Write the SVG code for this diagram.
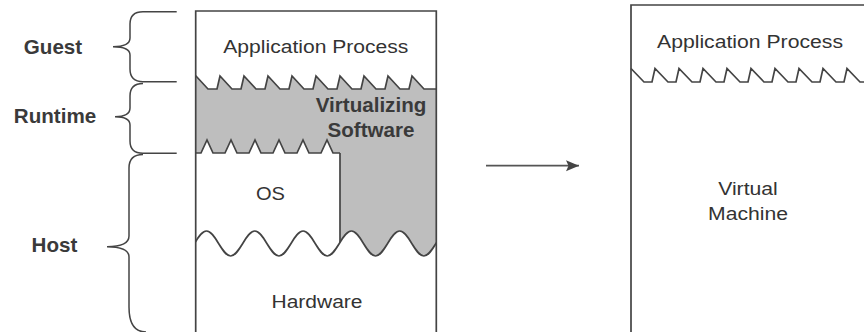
<svg xmlns="http://www.w3.org/2000/svg" width="864" height="332" viewBox="0 0 864 332">
<style>
.ln{fill:none;stroke:#444;stroke-width:1.7;stroke-linejoin:miter}
.br{fill:none;stroke:#444;stroke-width:1.5}
.t{font-family:"Liberation Sans",Arial,sans-serif;font-size:17.5px;fill:#333;text-anchor:middle}
.b{font-family:"Liberation Sans",Arial,sans-serif;font-size:20.6px;font-weight:bold;fill:#3a3a3a;text-anchor:middle}
</style>
<defs>
<clipPath id="lbox"><rect x="195.7" y="0" width="240.6" height="332"/></clipPath>
<marker id="ah" markerWidth="14" markerHeight="12" refX="13" refY="5.5" orient="auto" markerUnits="userSpaceOnUse">
<path d="M0,0 L13,5.5 L0,11 L2.5,5.5 Z" fill="#444"/>
</marker>
</defs>
<rect width="864" height="332" fill="#fff"/>

<g id="labels">
<g id="guest"><path class="br" d="M176.7,11.7 L143,11.7 Q130,11.7 130,24 L130,38 Q130,46.7 113,46.7 Q130,46.7 130,55 L130,69 Q130,81.7 143,81.7 L176.7,81.7"/><text class="b" x="53" y="54.3">Guest</text></g>
<g id="runtime"><path class="br" d="M143,83.5 Q130,83.5 130,96 L130,108 Q130,116.7 115,116.7 Q130,116.7 130,125 L130,141 Q130,153.3 143,153.3 L176.7,153.3"/><text class="b" x="55" y="123.3">Runtime</text></g>
<g id="host"><path class="br" d="M143,154.5 Q129,154.5 129,168 L129,236 Q129,246.7 107,246.7 Q129,246.7 129,257 L129,307 Q129,332 146,332"/><text class="b" x="54.5" y="251.7">Host</text></g>
</g>

<g id="system">
<g clip-path="url(#lbox)">
<path id="virtualizing-fill" fill="#bebebe" d="M195.7,76 L196,76 L208,89 L217,89 L220,76 L232,89 L241,89 L244,76 L256,89 L265,89 L268,76 L280,89 L289,89 L292,76 L304,89 L313,89 L316,76 L328,89 L337,89 L340,76 L352,89 L361,89 L364,76 L376,89 L385,89 L388,76 L400,89 L409,89 L412,76 L424,89 L436.3,89 L436.3,262 L340,262 L340,153 L333,153 L327,140 L321,153 L309,153 L303,140 L297,153 L285,153 L279,140 L273,153 L261,153 L255,140 L249,153 L237,153 L231,140 L225,153 L213,153 L207,140 L201,153 L195.7,153 Z"/>
<path class="ln" d="M340,153 L340,262"/>
<path fill="#fff" d="M182.35,256 C191.15,256 197.7,231 206.5,231 S221.85,256 230.65,256 S246,231 254.8,231 S270.15,256 278.95,256 S294.3,231 303.1,231 S318.45,256 327.25,256 S342.6,231 351.4,231 S366.75,256 375.55,256 S390.9,231 399.7,231 S415.05,256 423.85,256 S439.2,231 448,231 L448,340 L182,340 Z"/>
<path class="ln" d="M182.35,256 C191.15,256 197.7,231 206.5,231 S221.85,256 230.65,256 S246,231 254.8,231 S270.15,256 278.95,256 S294.3,231 303.1,231 S318.45,256 327.25,256 S342.6,231 351.4,231 S366.75,256 375.55,256 S390.9,231 399.7,231 S415.05,256 423.85,256 S439.2,231 448,231"/>
<path class="ln" d="M195.7,76 L196,76 L208,89 L217,89 L220,76 L232,89 L241,89 L244,76 L256,89 L265,89 L268,76 L280,89 L289,89 L292,76 L304,89 L313,89 L316,76 L328,89 L337,89 L340,76 L352,89 L361,89 L364,76 L376,89 L385,89 L388,76 L400,89 L409,89 L412,76 L424,89 L436.3,89"/>
<path class="ln" d="M195.7,153 L201,153 L207,140 L213,153 L225,153 L231,140 L237,153 L249,153 L255,140 L261,153 L273,153 L279,140 L285,153 L297,153 L303,140 L309,153 L321,153 L327,140 L333,153 L340,153"/>
</g>
<path class="ln" d="M195.7,333 L195.7,11 L436.3,11 L436.3,333"/>
<g id="app-process"><text class="t" x="315.8" y="53.3" textLength="185" lengthAdjust="spacingAndGlyphs">Application Process</text></g>
<g id="virtualizing-software"><text class="b" x="371" y="111.7">Virtualizing</text><text class="b" x="371" y="136.7">Software</text></g>
<g id="os"><text class="t" x="270.5" y="200" textLength="29" lengthAdjust="spacingAndGlyphs">OS</text></g>
<g id="hardware"><text class="t" x="317" y="308.3" textLength="91" lengthAdjust="spacingAndGlyphs">Hardware</text></g>
</g>

<g id="connectors">
<line x1="486" y1="165.7" x2="579" y2="165.7" stroke="#555" stroke-width="1.8" marker-end="url(#ah)"/>
</g>

<g id="virtual-machine">
<path class="ln" d="M631,333 L631,5 L865,5"/>
<path class="ln" d="M631,68.5 L644,82 L652,82 L655,68.5 L668,82 L676,82 L679,68.5 L692,82 L700,82 L703,68.5 L716,82 L724,82 L727,68.5 L740,82 L748,82 L751,68.5 L764,82 L772,82 L775,68.5 L788,82 L796,82 L799,68.5 L812,82 L820,82 L823,68.5 L836,82 L844,82 L847,68.5 L860,82 L865,82"/>
<text class="t" x="750" y="48.3" textLength="186" lengthAdjust="spacingAndGlyphs">Application Process</text>
<text class="t" x="748" y="195" textLength="59.7" lengthAdjust="spacingAndGlyphs">Virtual</text>
<text class="t" x="748" y="220" textLength="80" lengthAdjust="spacingAndGlyphs">Machine</text>
</g>
</svg>
